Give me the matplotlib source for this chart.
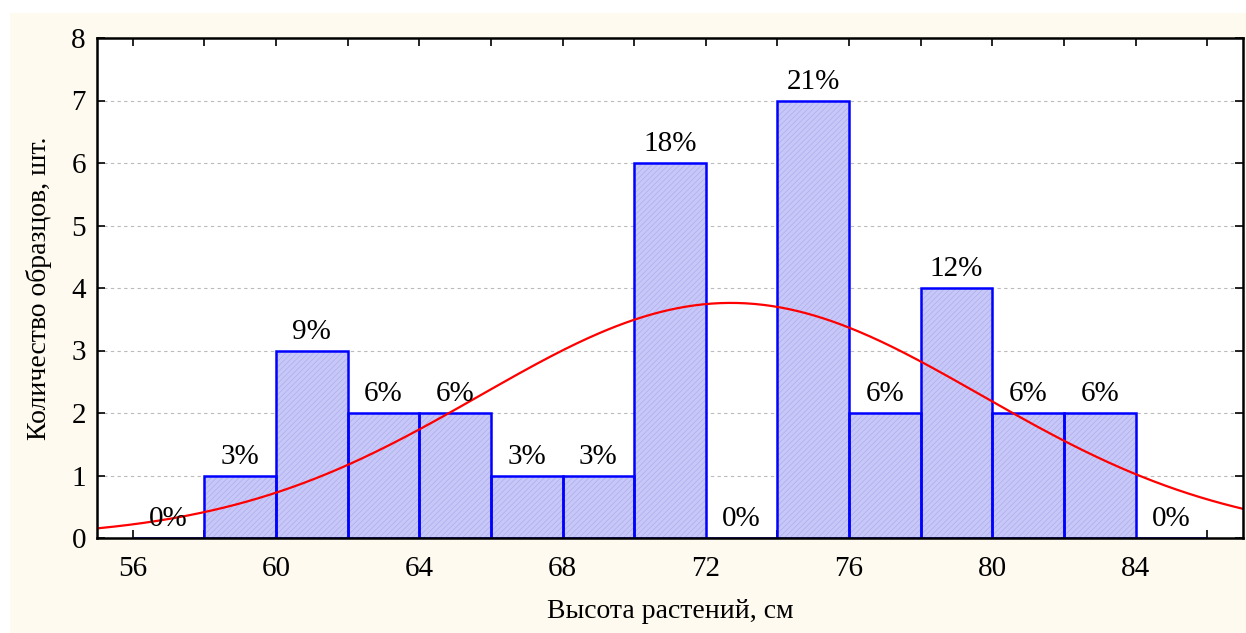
import numpy as np
import matplotlib.pyplot as plt
from matplotlib.patches import Rectangle

# гистограмма высоты растений
bin_left = [56, 58, 60, 62, 64, 66, 68, 70, 72, 74, 76, 78, 80, 82, 84]
counts = [0, 1, 3, 2, 2, 1, 1, 6, 0, 7, 2, 4, 2, 2, 0]
bin_width = 2
# параметры нормальной кривой
mu = 72.7
sigma = 7.0

plt.rcParams['font.family'] = ['Liberation Serif', 'DejaVu Serif']
plt.rcParams['hatch.linewidth'] = 0.5

fig = plt.figure(figsize=(12.46, 6.33), dpi=100)
fig.patch.set_facecolor('white')
fig.add_artist(Rectangle((10 / 1246, 0), 1236 / 1246, 620 / 633,
                         transform=fig.transFigure, facecolor='#fffaf0',
                         edgecolor='none', zorder=-10))
ax = fig.add_axes([97 / 1246, 95 / 633, 1146 / 1246, 500 / 633])
ax.set_facecolor('white')

n = sum(counts)
centers = np.array(bin_left) + bin_width / 2
# заливка со штриховкой (цвет штриховки берётся из edgecolor)
ax.bar(centers, counts, width=bin_width, facecolor='#c8c8f8', edgecolor='#adadee',
       linewidth=0, hatch='//////', zorder=2)
# контур столбцов
ax.bar(centers, counts, width=bin_width, facecolor='none', edgecolor='blue',
       linewidth=1.8, zorder=3)

# проценты над столбцами
for c, k in zip(centers, counts):
    ax.text(c, k + 0.3, f"{round(100 * k / n)}%", ha='center', va='center',
            fontsize=21, zorder=5)

# нормальная кривая
xs = np.linspace(55, 87, 400)
ys = n * bin_width / (sigma * np.sqrt(2 * np.pi)) * np.exp(-(xs - mu) ** 2 / (2 * sigma ** 2))
ax.plot(xs, ys, color='red', linewidth=1.6, zorder=4)

ax.set_xlim(55, 87)
ax.set_ylim(0, 8)
ax.set_xticks(np.arange(56, 87, 4))
ax.set_xticks(np.arange(56, 87, 2), minor=True)
ax.set_yticks(range(0, 9))
ax.yaxis.grid(True, linestyle=(0, (3, 3)), color='#bbbbbb', linewidth=0.8)
ax.set_axisbelow(True)
ax.tick_params(axis='both', which='both', direction='in', top=True, right=True,
               labelsize=21, width=1.2)
ax.tick_params(axis='both', which='major', length=6)
ax.tick_params(axis='x', which='minor', length=6)
ax.tick_params(axis='x', pad=13)
ax.tick_params(axis='y', pad=8)
for s in ax.spines.values():
    s.set_linewidth(1.8)
    s.set_zorder(6)

ax.set_xlabel('Высота растений, см', fontsize=20, labelpad=12)
ax.set_ylabel('Количество образцов, шт.', fontsize=20, labelpad=14)

fig.savefig('out.png', dpi=100)
